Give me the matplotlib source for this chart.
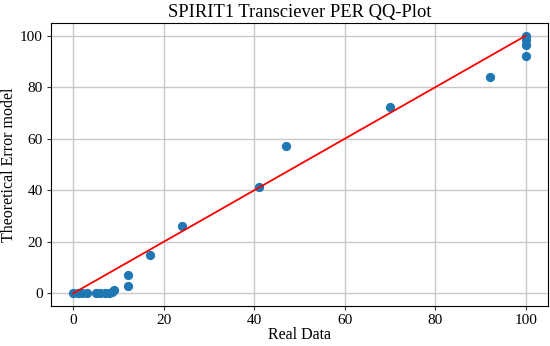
import matplotlib.pyplot as plt
import numpy as np

plt.rcParams["font.family"] = ["Liberation Serif", "DejaVu Serif"]

# QQ data
real_data = [0, 1, 2, 3, 5, 6, 7, 8, 8.5, 9,
             12, 12, 17, 24, 41, 47, 70, 92,
             100, 100, 100, 100]
theoretical = [0, 0, 0, 0, 0, 0, 0, 0, 0.4, 1.2,
               7.3, 3.0, 14.8, 26.2, 41.2, 57.2, 72.2, 84.0,
               100.0, 98.4, 96.5, 92.0]
ref_line = [0, 100]

fig, ax = plt.subplots(figsize=(5.5, 3.46), dpi=100)
fig.subplots_adjust(left=0.092, right=0.997, top=0.934, bottom=0.115)

ax.scatter(real_data, theoretical, s=32, color="#1f77b4", zorder=3)
ax.plot(ref_line, ref_line, color="red", linewidth=1.3, zorder=4)

ax.grid(True, color="#c8c8c8", linewidth=1.0)
ax.set_axisbelow(True)
ax.set_xlim(-5, 105)
ax.set_ylim(-5, 105)
ax.set_xticks(np.arange(0, 101, 20))
ax.set_yticks(np.arange(0, 101, 20))
ax.tick_params(labelsize=11, length=3, pad=2.5, colors="#333333",
               labelcolor="black")

ax.set_xlabel("Real Data", fontsize=11.5, labelpad=0)
ax.set_ylabel("Theoretical Error model", fontsize=11.5, labelpad=2)
ax.set_title("SPIRIT1 Transciever PER QQ-Plot", fontsize=13.3, pad=4)

fig.savefig("out.png", dpi=100)
